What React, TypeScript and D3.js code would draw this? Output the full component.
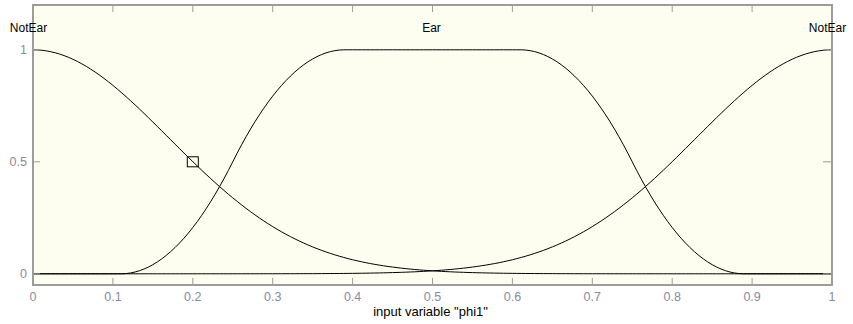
import React from "react";
import * as d3 from "d3";

// membership function definitions
const mfNames = ["NotEar", "Ear", "NotEar"];
const mfTypes = ["gaussmf", "pimf", "gaussmf"];
const mfParams: number[][] = [
  [0.17, 0],
  [0.11, 0.39, 0.61, 0.89],
  [0.17, 1],
];
const xTicks = [0, 0.1, 0.2, 0.3, 0.4, 0.5, 0.6, 0.7, 0.8, 0.9, 1];
const xTickLabels = ["0", "0.1", "0.2", "0.3", "0.4", "0.5", "0.6", "0.7", "0.8", "0.9", "1"];
const yTicks = [0, 0.5, 1];
const yTickLabels = ["0", "0.5", "1"];
const xLabel = 'input variable "phi1"';
const marker = { x: 0.2, y: 0.5 };
const nPoints = 181;

function smf(x: number, a: number, b: number) {
  if (x <= a) return 0;
  if (x >= b) return 1;
  const m = (a + b) / 2;
  if (x <= m) return 2 * ((x - a) / (b - a)) ** 2;
  return 1 - 2 * ((x - b) / (b - a)) ** 2;
}
function evalMf(type: string, p: number[], x: number) {
  if (type === "gaussmf") return Math.exp(-((x - p[1]) ** 2) / (2 * p[0] * p[0]));
  // pimf
  return smf(x, p[0], p[1]) * (1 - smf(x, p[2], p[3]));
}

export default function App() {
  const W = 853, H = 324;
  const left = 33, right = 832, top = 5, bottom = 285;
  const x = d3.scaleLinear().domain([0, 1]).range([left, right]);
  const y = d3.scaleLinear().domain([-0.05, 1.2]).range([bottom, top]);
  const xs = d3.range(nPoints).map((i) => i / (nPoints - 1));
  const line = d3.line<[number, number]>().x((d) => x(d[0])).y((d) => y(d[1]));
  const axisColor = "#9c9c9c";
  const tickColor = "#8a8a9c";
  const font = "'Liberation Sans', Arial, sans-serif";
  const tl = 7;

  return (
    <svg width={W} height={H} style={{ position: "absolute", left: 0, top: 0, background: "#fff" }}>
      <rect x={left} y={top} width={right - left} height={bottom - top} fill="#fefef0" />
      {mfTypes.map((t, i) => {
        const pts: [number, number][] = xs.map((v) => [v, evalMf(t, mfParams[i], v)]);
        return <path key={i} d={line(pts) || ""} fill="none" stroke="#000" strokeWidth={1} />;
      })}
      <rect x={x(marker.x) - 5.5} y={y(marker.y) - 5} width={11} height={10} fill="none" stroke="#000" strokeWidth={1} />
      {/* ticks */}
      {xTicks.map((t, i) => (
        <g key={"xt" + i}>
          <line x1={x(t)} x2={x(t)} y1={bottom} y2={bottom - tl} stroke={axisColor} />
          <line x1={x(t)} x2={x(t)} y1={top} y2={top + tl} stroke={axisColor} />
          <text x={x(t)} y={301} textAnchor="middle" fontFamily={font} fontSize={12.5} fill={tickColor}>
            {xTickLabels[i]}
          </text>
        </g>
      ))}
      {yTicks.map((t, i) => (
        <g key={"yt" + i}>
          <line x1={left} x2={left + tl} y1={y(t)} y2={y(t)} stroke={axisColor} />
          <line x1={right} x2={right - 9} y1={y(t)} y2={y(t)} stroke={axisColor} />
          <text x={27} y={y(t) + 4.5} textAnchor="end" fontFamily={font} fontSize={12.5} fill={tickColor}>
            {yTickLabels[i]}
          </text>
        </g>
      ))}
      <rect x={left} y={top} width={right - left} height={bottom - top} fill="none" stroke={axisColor} strokeWidth={2} />
      {mfTypes.map((t, i) => {
        let best = -1, bx = 0, cnt = 0;
        xs.forEach((v) => {
          const m = evalMf(t, mfParams[i], v);
          if (m > best + 1e-9) { best = m; bx = v; cnt = 1; }
          else if (Math.abs(m - best) < 1e-9) { bx += v; cnt += 1; }
        });
        const cx = bx / cnt;
        return (
          <text key={"l" + i} x={x(cx)} dx={mfNames[i] === "NotEar" ? -4.5 : -1} y={y(1.1)} dy={4.5}
            textAnchor="middle" fontFamily={font} fontSize={12} fill="#000">
            {mfNames[i]}
          </text>
        );
      })}
      <text x={x(0.5)} dx={-2} y={316} textAnchor="middle" fontFamily={font} fontSize={13} fill="#000">
        {xLabel}
      </text>
    </svg>
  );
}
